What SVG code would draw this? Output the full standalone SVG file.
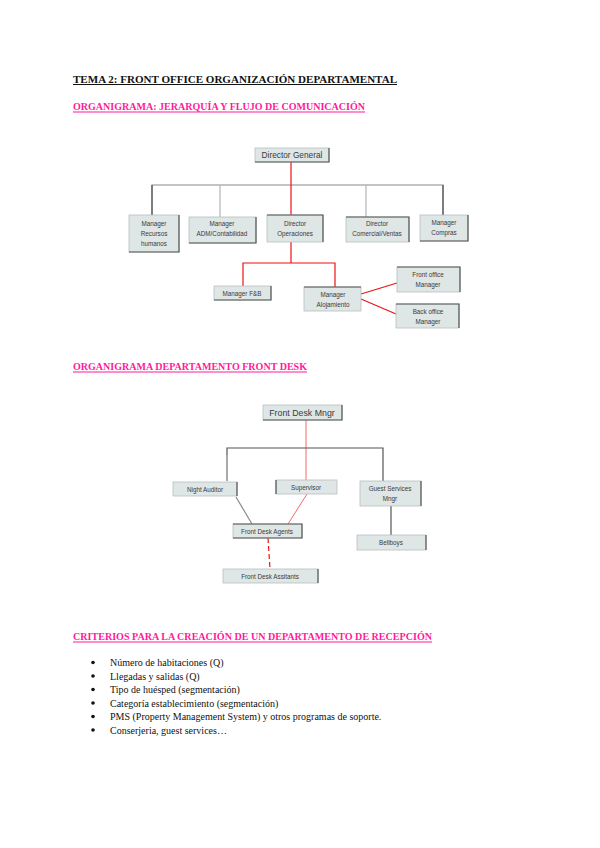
<svg xmlns="http://www.w3.org/2000/svg" width="600" height="848" viewBox="0 0 600 848">
<style>
.bg{fill:#ffffff}
.h1{font-family:"Liberation Serif",serif;font-weight:bold;font-size:11px;fill:#111}
.h2{font-family:"Liberation Serif",serif;font-weight:bold;font-size:10px;fill:#ff1a9c}
.ul1{stroke:#111;stroke-width:1}
.ul2{stroke:#ff1a9c;stroke-width:1}
.bx{fill:#dfe6e6;stroke:#b8bfbf;stroke-width:0.8}
.sh{fill:none;stroke:#555;stroke-width:1.2}
.t{font-family:"Liberation Sans",Arial,sans-serif;font-size:6.3px;fill:#3a3a3a;text-anchor:middle}
.tb{font-family:"Liberation Sans",Arial,sans-serif;font-size:8.3px;fill:#3a3a3a;text-anchor:middle}
.red{stroke:#ee1111;stroke-width:1.2;fill:none}
.red2{stroke:#f06a6a;stroke-width:1;fill:none}
.dk{stroke:#555;stroke-width:1.2;fill:none}
.lt{stroke:#b5b5b5;stroke-width:1.2;fill:none}
.md{stroke:#8a8a8a;stroke-width:1.2;fill:none}
.li{font-family:"Liberation Serif",serif;font-size:10px;fill:#111}
</style>
<rect class="bg" x="0" y="0" width="600" height="848"/>

<g id="headings">
<text class="h1" x="73" y="82.5" textLength="324" lengthAdjust="spacingAndGlyphs">TEMA 2: FRONT OFFICE ORGANIZACIÓN DEPARTAMENTAL</text>
<line class="ul1" x1="73" y1="84.5" x2="397" y2="84.5"/>
<text class="h2" x="73" y="110" textLength="292" lengthAdjust="spacingAndGlyphs">ORGANIGRAMA: JERARQUÍA Y FLUJO DE COMUNICACIÓN</text>
<line class="ul2" x1="73" y1="112" x2="365" y2="112"/>
<text class="h2" x="73" y="370" textLength="234" lengthAdjust="spacingAndGlyphs">ORGANIGRAMA DEPARTAMENTO FRONT DESK</text>
<line class="ul2" x1="73" y1="372" x2="307" y2="372"/>
<text class="h2" x="73" y="640" textLength="359" lengthAdjust="spacingAndGlyphs">CRITERIOS PARA LA CREACIÓN DE UN DEPARTAMENTO DE RECEPCIÓN</text>
<line class="ul2" x1="73" y1="642" x2="432" y2="642"/>
</g>

<g id="connectors">
<!-- chart 1 -->
<path class="md" d="M152 215 V185 H443 V215"/>
<path class="dk" d="M152 215 V185"/>
<path class="dk" d="M443 215 V185"/>
<path class="lt" d="M220 185 V217"/>
<path class="lt" d="M366 185 V217"/>
<path class="red" d="M291 162 V263"/>
<path class="red" d="M243 286 V263 H335 V287"/>
<path class="red" d="M361 294 L397 283"/>
<path class="red" d="M361 299 L396 314"/>
<!-- chart 2 -->
<path class="red2" d="M306 420 V480"/>
<path class="dk" d="M227 481 V448 H383 V481"/>
<path class="lt" d="M227 481 V455"/>
<path class="md" d="M236 497 L252 524"/>
<path class="red2" d="M307 494 L288 524"/>
<path class="dk" d="M391 506 V535"/>
<path class="red" d="M268 538 L270 569" stroke-dasharray="5,3"/>
</g>

<g id="n-director-general">
<rect class="bx" x="255" y="148" width="74" height="14"/>
<path class="sh" d="M329 148 V162 H255"/>
<text class="tb" x="292" y="158">Director General</text>
</g>
<g id="n-rrhh">
<rect class="bx" x="129" y="215" width="50" height="37"/>
<path class="sh" d="M179 215 V252 H129"/>
<text class="t" x="154" y="226">Manager</text>
<text class="t" x="154" y="236">Recursos</text>
<text class="t" x="154" y="246">humanos</text>
</g>
<g id="n-adm">
<rect class="bx" x="189" y="217" width="67" height="26"/>
<path class="sh" d="M256 217 V243 H189"/>
<text class="t" x="222" y="226">Manager</text>
<text class="t" x="222" y="236">ADM/Contabilidad</text>
</g>
<g id="n-dir-op">
<rect class="bx" x="267" y="215" width="56" height="27"/>
<path class="sh" d="M267 215 H323 V242"/>
<text class="t" x="295" y="226">Director</text>
<text class="t" x="295" y="236">Operaciones</text>
</g>
<g id="n-dir-com">
<rect class="bx" x="346" y="217" width="63" height="25"/>
<path class="sh" d="M346 217 H409 V242"/>
<text class="t" x="377" y="226">Director</text>
<text class="t" x="377" y="236">Comercial/Ventas</text>
</g>
<g id="n-compras">
<rect class="bx" x="420" y="215" width="48" height="26"/>
<path class="sh" d="M468 215 V241 H420"/>
<text class="t" x="444" y="225">Manager</text>
<text class="t" x="444" y="235">Compras</text>
</g>
<g id="n-fb">
<rect class="bx" x="214" y="286" width="57" height="14"/>
<path class="sh" d="M271 286 V300 H214"/>
<text class="t" x="242" y="295.5">Manager F&amp;B</text>
</g>
<g id="n-alojamiento">
<rect class="bx" x="304" y="287" width="57" height="24"/>
<path class="sh" d="M304 287 H361"/>
<text class="t" x="333" y="297">Manager</text>
<text class="t" x="333" y="307">Alojamiento</text>
</g>
<g id="n-front-office">
<rect class="bx" x="397" y="267" width="63" height="25"/>
<path class="sh" d="M397 267 H460 V292"/>
<text class="t" x="428" y="277">Front office</text>
<text class="t" x="428" y="287">Manager</text>
</g>
<g id="n-back-office">
<rect class="bx" x="396" y="304" width="63" height="24"/>
<path class="sh" d="M396 304 H459 V328"/>
<text class="t" x="428" y="314">Back office</text>
<text class="t" x="428" y="324">Manager</text>
</g>

<g id="n-front-desk-mngr">
<rect class="bx" x="263" y="405" width="79" height="15"/>
<path class="sh" d="M342 405 V420 H263"/>
<text class="tb" x="302" y="415.5" style="font-size:8.8px">Front Desk Mngr</text>
</g>
<g id="n-night-auditor">
<rect class="bx" x="173" y="482" width="64" height="14"/>
<path class="sh" d="M237 482 V496"/>
<text class="t" x="205" y="491.5">Night Auditor</text>
</g>
<g id="n-supervisor">
<rect class="bx" x="276" y="480" width="61" height="14"/>
<path class="sh" d="M276 480 V494"/>
<text class="t" x="306" y="489.5">Supervisor</text>
</g>
<g id="n-guest-services">
<rect class="bx" x="360" y="481" width="61" height="25"/>
<path class="sh" d="M421 481 V506"/>
<text class="t" x="390" y="491">Guest Services</text>
<text class="t" x="390" y="501">Mngr</text>
</g>
<g id="n-front-desk-agents">
<rect class="bx" x="233" y="524" width="69" height="14"/>
<path class="sh" d="M233 524 H302 V538 H233"/>
<text class="t" x="267" y="533.5">Front Desk Agents</text>
</g>
<g id="n-bellboys">
<rect class="bx" x="357" y="535" width="69" height="15"/>
<path class="sh" d="M426 535 V550"/>
<text class="t" x="391" y="545">Bellboys</text>
</g>
<g id="n-front-desk-assistants">
<rect class="bx" x="223" y="569" width="95" height="14"/>
<path class="sh" d="M318 569 V583"/>
<text class="t" x="270" y="578.5">Front Desk Assitants</text>
</g>

<g id="list">
<circle cx="93" cy="662.5" r="1.8" fill="#111"/>
<text class="li" x="110" y="666">Número de habitaciones (Q)</text>
<circle cx="93" cy="676" r="1.8" fill="#111"/>
<text class="li" x="110" y="679.5">Llegadas y salidas (Q)</text>
<circle cx="93" cy="689.5" r="1.8" fill="#111"/>
<text class="li" x="110" y="693">Tipo de huésped (segmentación)</text>
<circle cx="93" cy="703" r="1.8" fill="#111"/>
<text class="li" x="110" y="706.5">Categoría establecimiento (segmentación)</text>
<circle cx="93" cy="716.5" r="1.8" fill="#111"/>
<text class="li" x="110" y="720">PMS (Property Management System) y otros programas de soporte.</text>
<circle cx="93" cy="730" r="1.8" fill="#111"/>
<text class="li" x="110" y="733.5">Conserjeria, guest services…</text>
</g>
</svg>
